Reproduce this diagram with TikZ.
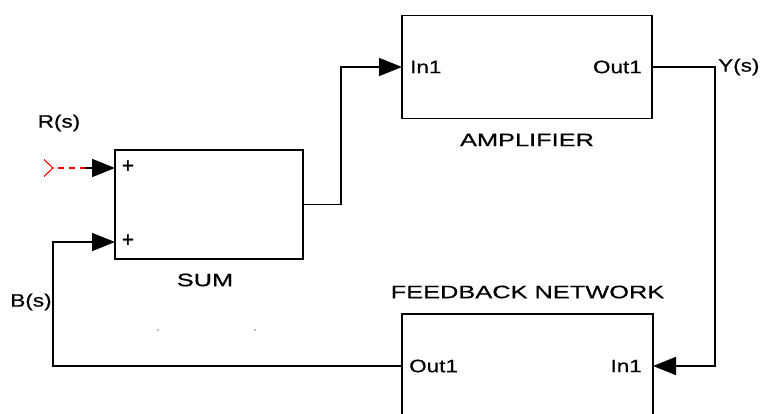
\documentclass[tikz,border=0pt]{standalone}
\usepackage{fontspec}
\setmainfont{Liberation Sans}
\newfontfamily\capsfam[FakeStretch=1.41,FakeBold=0.6]{Liberation Sans}
\newfontfamily\mixfam[FakeStretch=1.25,FakeBold=0.6]{Liberation Sans}
\newfontfamily\plusfam[FakeBold=1.2]{Liberation Sans}
\usetikzlibrary{arrows.meta,calc}
\begin{document}
\begin{tikzpicture}[x=1pt,y=-1pt,
  wire/.style={line width=1.7pt, line join=miter},
  arr/.style={wire, -{Triangle[length=23pt,width=18pt]}},
  block/.style={draw, rectangle, line width=1.7pt, inner sep=0pt, outer sep=0pt, fill=white},
  capsl/.style={inner sep=0pt, font=\capsfam\fontsize{18}{20}\selectfont},
  mixl/.style={inner sep=0pt, font=\mixfam\fontsize{18}{20}\selectfont},
  plusl/.style={inner sep=0pt, font=\plusfam\fontsize{21}{22}\selectfont}]
\path[use as bounding box] (0,0) rectangle (762,414);
\clip (0,0) rectangle (762,414);

% blocks
\node[block, minimum width=250pt, minimum height=103pt] (amp) at (527,67) {};
\node[block, minimum width=188pt, minimum height=109pt] (sum) at (209,204.5) {};
\node[block, minimum width=251pt, minimum height=104pt] (fb) at (527.5,366) {};

% ports of the summing block
\coordinate (sumin1) at ([yshift=36.5pt]sum.west);
\coordinate (sumin2) at ([yshift=-37.5pt]sum.west);

% block titles
\node[capsl] at ([yshift=-21.5pt]amp.south) {AMPLIFIER};
\node[capsl] at ([xshift=-4pt,yshift=-21pt]sum.south) {SUM};
\node[capsl] at ([yshift=22pt]fb.north) {FEEDBACK NETWORK};

% port labels
\node[mixl, anchor=west] at ([xshift=8pt]amp.west) {In1};
\node[mixl, anchor=east] at ([xshift=-10pt]amp.east) {Out1};
\node[mixl, anchor=west] at ([xshift=7pt]fb.west) {Out1};
\node[mixl, anchor=east] at ([xshift=-11pt]fb.east) {In1};
\node[plusl] at ([xshift=13pt,yshift=1.5pt]sumin1) {+};
\node[plusl] at ([xshift=13pt,yshift=1.5pt]sumin2) {+};

% connections
\draw[arr] (sum.east) -- ++(38,0) |- (amp.west);
\draw[arr] (amp.east) -- ++(63,0) coordinate (ycorner) |- (fb.east);
\draw[arr] (fb.west) -- ++(-349,0) coordinate (bcorner) |- (sumin2);

% unconnected reference input
\coordinate (rend) at ([xshift=-62pt]sumin1);
\coordinate (rjoin) at ([xshift=-30pt]sumin1);
\draw[red, line width=1.1pt] ([xshift=-9pt,yshift=8.5pt]rend) -- (rend) -- ([xshift=-9pt,yshift=-8.5pt]rend);
\draw[red, line width=1.3pt, dash pattern=on 6pt off 5pt, dash phase=-5pt] (rend) -- (rjoin);
\draw[arr] (rjoin) -- (sumin1);

% signal names
\node[mixl] at (59,123) {R(s)};
\node[mixl, anchor=west] at ([xshift=3pt]ycorner) {Y(s)};
\node[mixl] at (31,302) {B(s)};

% stray marks
\fill[gray] (158,330) circle (0.9pt);
\fill[gray] (255,330) circle (0.9pt);
\end{tikzpicture}
\end{document}
